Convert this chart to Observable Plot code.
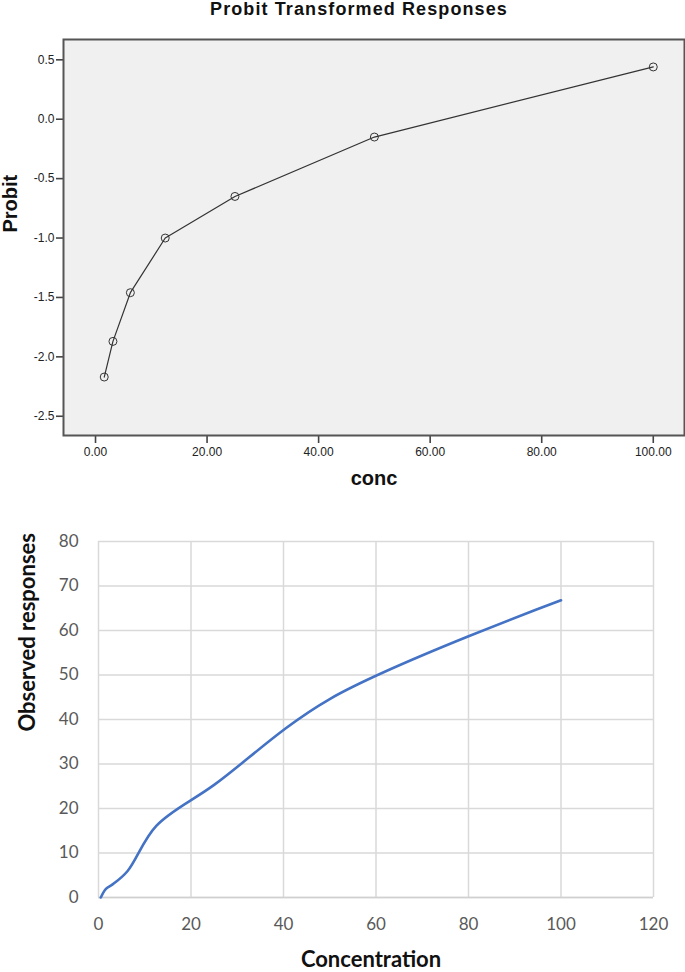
<!DOCTYPE html>
<html>
<head>
<meta charset="utf-8">
<script src="https://cdn.jsdelivr.net/npm/d3@7"></script>
<script src="https://cdn.jsdelivr.net/npm/@observablehq/plot@0.6"></script>
<style>
  html, body { margin: 0; padding: 0; background: #fff; }
  #chart svg { display: block; }
</style>
</head>
<body>
<div id="chart"></div>
<script>
// ---- Top chart: Probit transformed responses ----
const probitTitle = "Probit Transformed Responses";
const concValues = [1.5625, 3.125, 6.25, 12.5, 25, 50, 100];
const probitValues = [-2.17, -1.87, -1.46, -1.00, -0.65, -0.15, 0.44];
const probitXTicks = [0, 20, 40, 60, 80, 100];
const probitYTicks = [-2.5, -2.0, -1.5, -1.0, -0.5, 0.0, 0.5];
const probitXLabel = "conc";
const probitYLabel = "Probit";

// ---- Bottom chart: Observed responses ----
const obsConc = [0.5, 1.5625, 3.125, 6.25, 12.5, 25, 50, 100];
const obsValues = [0, 1.9, 3.0, 5.9, 16.1, 25.3, 44.6, 66.8];
const obsXTicks = [0, 20, 40, 60, 80, 100, 120];
const obsYTicks = [0, 10, 20, 30, 40, 50, 60, 70, 80];
const obsXLabel = "Concentration";
const obsYLabel = "Observed responses";

const probitData = concValues.map((c, i) => ({conc: c, probit: probitValues[i]}));
const obsData = obsConc.map((c, i) => ({conc: c, obs: obsValues[i]}));

const fmtY = d => d3.format(".1f")(d).replace("\u2212", "-");
const fmtX = d => d3.format(".2f")(d);

const sansA = "'Liberation Sans', Arial, sans-serif";

const probitChart = Plot.plot({
  width: 685,
  height: 500,
  marginTop: 39,
  marginBottom: 65,
  marginLeft: 63,
  marginRight: 1,
  style: {fontFamily: sansA, background: "#fff", color: "#222"},
  x: {domain: [-5.74, 105.6]},
  y: {domain: [-2.662, 0.671]},
  marks: [
    Plot.frame({fill: "#f0f0f0", stroke: "none"}),
    Plot.axisY({ticks: probitYTicks, tickFormat: fmtY, tickSize: 7, tickPadding: 2,
      fontSize: 12, fontFamily: sansA, fill: "#222", stroke: "#444", strokeWidth: 1.6, label: null}),
    Plot.axisX({ticks: probitXTicks, tickFormat: fmtX, tickSize: 8, tickPadding: 4,
      fontSize: 12, fontFamily: sansA, fill: "#222", stroke: "#444", strokeWidth: 1.6, label: null}),
    Plot.frame({stroke: "#555", strokeWidth: 2}),
    Plot.line(probitData, {x: "conc", y: "probit", stroke: "#333", strokeWidth: 1.2}),
    Plot.dot(probitData, {x: "conc", y: "probit", r: 4, stroke: "#333", strokeWidth: 1, fill: "none"}),
    Plot.text([probitTitle], {text: d => d, frameAnchor: "top", dy: -37, dx: -15, lineAnchor: "top",
      fontSize: 18, fontWeight: "bold", fontFamily: sansA, fill: "#111"}),
    Plot.text([probitXLabel], {text: d => d, frameAnchor: "bottom", dy: 43, lineAnchor: "middle",
      fontSize: 20, fontWeight: "bold", fontFamily: sansA, fill: "#111"}),
    Plot.text([probitYLabel], {text: d => d, frameAnchor: "left", rotate: -90, dx: -53, dy: -5, lineAnchor: "middle",
      fontSize: 20, fontWeight: "bold", fontFamily: sansA, fill: "#111"})
  ]
});

// widen the title slightly, like the reference's
d3.select(probitChart).selectAll("text")
  .filter(function () { return this.textContent === probitTitle; })
  .style("letter-spacing", "1.1px");

const sansB = "Lato, 'Open Sans', sans-serif";

const observedChart = Plot.plot({
  width: 685,
  height: 472,
  marginTop: 41,
  marginBottom: 75,
  marginLeft: 98,
  marginRight: 32,
  style: {fontFamily: sansB, background: "#fff"},
  x: {domain: [0, 120]},
  y: {domain: [0, 80]},
  marks: [
    Plot.gridX({ticks: obsXTicks, stroke: "#d9d9d9", strokeOpacity: 1, strokeWidth: 1.5}),
    Plot.gridY({ticks: obsYTicks, stroke: "#d9d9d9", strokeOpacity: 1, strokeWidth: 1.5}),
    Plot.axisX({ticks: obsXTicks, tickSize: 0, tickPadding: 20, fontSize: 17, fontFamily: sansB,
      fill: "#595959", label: null}),
    Plot.axisY({ticks: obsYTicks, tickSize: 0, tickPadding: 20, fontSize: 17, fontFamily: sansB,
      fill: "#595959", label: null}),
    Plot.ruleY([0], {stroke: "#d0d0d0", strokeWidth: 1.5}),
    Plot.line(obsData, {x: "conc", y: "obs", curve: "catmull-rom", stroke: "#4472C4", strokeWidth: 2.6}),
    Plot.text([obsXLabel], {text: d => d, frameAnchor: "bottom", dy: 62, dx: -5, lineAnchor: "middle",
      fontSize: 22, fontWeight: "bold", fontFamily: sansB, fill: "#111"}),
    Plot.text([obsYLabel], {text: d => d, frameAnchor: "left", rotate: -90, dx: -71, dy: 12, lineAnchor: "middle",
      fontSize: 22, fontWeight: "bold", fontFamily: sansB, fill: "#111"})
  ]
});

document.getElementById("chart").append(probitChart, observedChart);
</script>
</body>
</html>
